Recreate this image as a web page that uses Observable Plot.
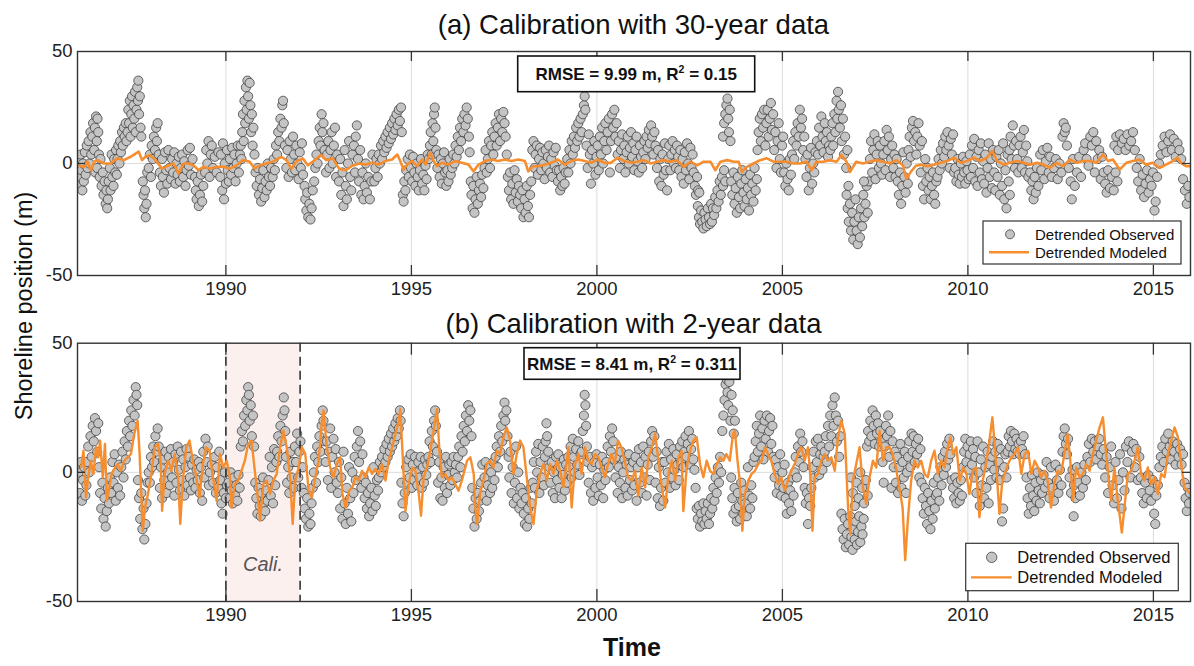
<!DOCTYPE html>
<html><head><meta charset="utf-8">
<script src="https://cdn.jsdelivr.net/npm/d3@7"></script>
<script src="https://cdn.jsdelivr.net/npm/@observablehq/plot@0.6"></script>
<style>
body{margin:0;background:#fff;font-family:"Liberation Sans",Arial,Helvetica,sans-serif;}
#wrap{position:relative;width:1194px;height:666px;overflow:hidden;background:#fff;}
#wrap svg{position:absolute;left:0;}
</style></head><body><div id="wrap"></div>
<script>
// ---- axis ticks / categories ----
const xTicks = [1990, 1995, 2000, 2005, 2010, 2015];
const yTicks = [-50, 0, 50];
const xDomain = [1986, 2016];
const yDomain = [-50, 50];
const caliPeriod = [1990, 1992];
const titles = ["(a) Calibration with 30-year data", "(b) Calibration with 2-year data"];
const statsA = {rmse: "9.99", r2: "0.15"};
const statsB = {rmse: "8.41", r2: "0.311"};
const legendLabels = ["Detrended Observed", "Detrended Modeled"];

// ---- panel (a) observed: flat pairs (year-1900, metres) ----
const obsA = [
86.03,2,86.05,-6,86.07,-10,86.09,4,86.11,-3,86.13,-12,86.15,0,86.17,-8,86.2,5,86.22,-5,86.25,8,86.27,-2,
86.3,10,86.32,0,86.35,14,86.37,4,86.4,12,86.42,18,86.45,6,86.47,16,86.5,21,86.52,10,86.54,20,86.56,14,86.58,4,86.48,-4,86.53,-2,
86.6,-6,86.62,2,86.65,-10,86.68,-4,86.7,-14,86.73,-8,86.76,-18,86.78,-12,86.8,-20,86.82,-16,86.84,-8,86.87,-2,86.89,-12,
86.92,4,86.94,-6,86.97,-10,86.99,2,87.02,-4,87.04,6,
87.06,-5,87.08,2,87.1,8,87.13,0,87.15,10,87.17,5,87.2,14,87.22,8,87.25,16,87.27,12,87.3,18,87.32,10,
87.35,14,87.37,24,87.39,18,87.41,28,87.43,12,87.45,22,87.47,30,87.49,16,87.51,26,87.53,20,87.55,32,87.57,14,87.59,24,87.61,34,87.63,28,87.64,37,87.66,22,87.68,30,87.7,16,87.72,12,
87.76,-8,87.78,-14,87.8,-20,87.82,-12,87.84,-24,87.86,-18,87.88,-4,
87.92,-2,87.95,4,87.98,-6,88.0,8,88.03,2,88.06,12,88.09,6,88.12,16,88.14,10,88.16,18,88.19,4,88.22,-4,
88.25,-10,88.28,2,88.3,-6,88.33,-13,88.36,5,88.39,-3,88.42,-9,88.45,6,88.48,-2,
88.52,-7,88.55,2,88.58,-4,88.61,5,88.64,-9,88.67,0,88.7,-5,88.73,3,88.76,-8,88.79,-2,88.82,4,88.85,-6,88.88,1,88.91,-10,88.94,-3,88.97,6,89.0,-1,89.03,7,89.06,-5,89.1,2,
89.17,-6,89.19,-12,89.21,-16,89.24,-8,89.27,-19,89.3,-14,89.33,-5,89.36,-17,89.39,-10,
89.44,-4,89.47,6,89.5,0,89.53,10,89.56,-6,89.59,4,89.62,8,89.65,-2,89.7,3,89.75,-4,89.8,5,
89.85,-6,89.87,4,89.9,-12,89.92,9,89.95,-16,89.97,0,90.0,-9,90.03,6,90.05,-3,
90.08,-8,90.11,2,90.14,-5,90.17,7,90.2,-2,90.23,4,90.26,-8,90.29,0,90.32,8,90.35,-4,
90.38,4,90.4,8,90.42,2,90.44,14,90.46,22,90.48,10,90.5,28,90.52,18,90.54,34,90.56,24,90.58,37,90.6,30,90.62,20,90.64,36,90.66,26,90.68,14,90.7,22,90.72,8,90.74,16,90.77,4,
90.8,-4,90.83,-10,90.86,-2,90.89,-14,90.92,-7,90.95,-17,90.98,-11,91.01,-3,91.04,-15,91.07,-8,91.1,-12,91.13,0,91.16,-6,91.19,-10,91.22,-2,
91.26,-6,91.29,2,91.32,-3,91.35,8,91.38,4,91.41,14,91.44,10,91.47,20,91.5,16,91.52,26,91.54,28,91.56,18,91.59,8,
91.63,-2,91.66,6,91.69,-6,91.72,10,91.75,2,91.78,-4,91.81,12,91.84,4,91.87,-3,91.9,8,91.93,0,91.96,-7,91.99,5,92.02,-2,92.05,9,92.08,-5,
92.12,-10,92.14,-16,92.17,-21,92.19,-13,92.22,-24,92.25,-18,92.28,-25,92.31,-20,92.34,-12,
92.38,-8,92.41,-2,92.44,4,92.47,0,92.5,10,92.53,16,92.55,8,92.58,22,92.6,14,92.63,18,92.66,6,
92.7,-4,92.73,4,92.76,10,92.79,-2,92.82,6,92.85,14,92.88,0,92.91,8,92.94,16,92.97,-6,93.0,4,
93.05,-8,93.08,2,93.11,-14,93.14,-4,93.17,-19,93.2,6,93.23,-10,93.26,-16,93.29,0,93.32,10,93.35,-6,93.38,-12,93.41,4,
93.45,8,93.48,-4,93.5,12,93.53,17,93.56,2,93.59,-8,93.62,6,93.65,-14,93.68,-4,93.71,-16,93.74,-10,93.77,0,93.8,-13,93.84,-6,93.88,-16,93.92,-8,93.95,4,
94.0,-8,94.03,-2,94.06,2,94.09,-6,94.12,4,94.15,0,94.18,8,94.21,2,94.24,10,94.27,5,94.3,12,94.33,7,94.36,14,94.39,9,94.42,16,94.45,11,94.48,18,94.51,13,94.54,20,94.57,15,94.6,22,94.63,17,94.66,24,94.69,19,94.72,25,94.74,14,
94.77,-14,94.79,-17,94.81,-8,94.84,-12,94.86,-3,
94.9,2,94.93,-6,94.96,4,94.99,-2,95.02,-8,95.05,3,95.08,-4,95.11,-10,95.14,0,95.17,-6,95.2,-12,95.23,-3,95.26,2,95.29,-9,95.32,-5,95.35,-12,95.38,-1,95.41,-7,95.44,4,
95.47,2,95.5,8,95.52,14,95.55,4,95.57,18,95.59,10,95.61,22,95.63,25,95.65,16,95.67,6,
95.7,-2,95.73,4,95.76,-6,95.79,2,95.82,-9,95.85,0,95.88,5,95.91,-4,95.94,-10,95.97,-3,96.0,-8,96.03,2,96.06,-5,
96.1,-2,96.13,4,96.16,0,96.19,8,96.22,3,96.25,12,96.28,6,96.31,16,96.34,10,96.37,20,96.4,14,96.43,22,96.46,17,96.49,25,96.52,20,96.55,12,96.57,5,
96.6,-8,96.62,-14,96.65,-20,96.67,-10,96.7,-22,96.73,-16,96.76,-6,96.79,-18,96.82,-12,96.85,-9,96.88,-15,96.91,-5,96.94,-11,
96.97,-2,97.0,6,97.03,-4,97.06,2,97.09,10,97.12,-2,97.15,8,97.18,14,97.21,4,97.24,12,97.27,18,97.3,8,97.33,16,97.36,22,97.39,10,97.42,20,97.45,14,97.48,23,97.51,18,97.54,12,97.57,4,
97.6,-6,97.63,-12,97.66,-4,97.69,-16,97.72,-9,97.75,-18,97.78,-3,97.81,-13,97.84,-7,97.87,-17,97.9,-10,97.93,-14,97.96,-20,97.99,-12,98.02,-24,98.05,-16,98.08,-22,98.11,-10,98.14,-19,98.17,-24,98.2,-14,98.23,-8,
98.26,6,98.29,10,98.32,-2,98.35,4,98.38,8,98.41,-5,98.44,2,98.47,7,98.5,-3,98.53,5,98.56,0,98.59,-7,98.62,6,98.65,-2,98.68,3,98.71,8,98.74,-4,98.77,2,98.8,-6,98.83,5,98.86,-1,98.89,7,98.92,-3,
98.95,-8,98.98,-3,99.01,-12,99.04,-6,99.07,-10,99.1,-2,99.13,-9,99.16,-4,
99.2,2,99.23,-4,99.26,6,99.29,0,99.32,10,99.35,4,99.38,12,99.41,7,99.44,16,99.47,10,99.5,18,99.53,12,99.56,20,99.59,14,99.62,22,99.65,26,99.67,30,99.69,24,
99.72,8,99.75,-2,99.78,13,99.81,4,99.84,-9,99.87,6,99.9,0,99.93,10,99.96,-5,99.99,3,
100.02,8,100.05,-3,100.08,12,100.11,4,100.14,16,100.17,0,100.2,10,100.23,18,100.26,6,100.29,14,100.32,20,100.35,-4,100.38,10,100.41,22,100.44,16,100.47,24,100.5,12,100.53,18,
100.56,4,100.59,10,100.62,-2,100.65,6,100.68,13,100.71,2,100.74,8,100.77,-4,100.8,5,100.83,12,100.86,0,100.89,7,100.92,14,100.95,3,100.98,9,101.01,-3,101.04,6,101.07,12,101.1,1,101.13,-4,101.16,8,101.19,3,
101.22,-2,101.25,5,101.28,10,101.31,2,101.34,12,101.37,7,101.4,15,101.43,9,101.46,17,101.49,12,101.52,4,101.55,14,101.58,8,
101.62,-2,101.65,6,101.68,-8,101.71,2,101.74,-10,101.77,4,101.8,-5,101.83,9,101.86,-3,101.89,-12,
101.92,2,101.95,8,101.98,-3,102.01,4,102.04,10,102.07,0,102.1,6,102.13,-2,102.16,8,102.19,3,102.22,-3,102.25,6,
102.28,-6,102.31,2,102.34,-9,102.37,5,102.4,-3,102.43,9,102.46,0,102.49,-7,102.52,7,102.55,-2,102.58,4,
102.61,-4,102.64,-10,102.67,-14,102.7,-6,102.73,-12,
102.72,-19,102.75,-24,102.78,-27,102.81,-21,102.84,-26,102.87,-29,102.9,-22,102.93,-25,102.96,-28,102.99,-20,103.02,-24,103.05,-27,103.08,-18,102.76,-13,
103.1,-26,103.13,-20,103.16,-23,103.19,-15,103.22,-20,103.25,-12,103.28,-17,103.31,-8,103.34,-14,103.37,-6,103.4,-10,103.43,-3,103.46,-8,
103.4,12,103.43,18,103.46,22,103.49,26,103.52,29,103.54,20,103.56,14,103.58,24,103.6,10,
103.62,-8,103.65,-14,103.68,-4,103.71,-18,103.74,-11,103.77,-22,103.8,-6,103.83,-15,103.86,-20,103.89,-9,103.92,-3,103.95,-13,103.98,-19,104.01,-7,104.04,-16,104.07,-11,104.1,-21,104.13,-5,104.16,-14,104.19,-9,104.22,-17,104.25,-2,104.28,-12,104.31,-7,
104.33,6,104.36,14,104.39,20,104.42,10,104.45,22,104.48,16,104.51,24,104.54,8,104.57,18,104.6,24,104.63,12,104.66,20,104.69,27,104.72,15,104.75,22,
104.78,6,104.81,14,104.84,-2,104.87,10,104.9,18,104.93,2,104.96,-4,104.99,8,105.02,12,
105.05,-4,105.08,-10,105.11,0,105.14,-7,105.17,-12,105.2,2,105.23,-5,
105.26,4,105.29,10,105.32,2,105.35,14,105.38,8,105.41,18,105.44,12,105.47,24,105.5,16,105.53,20,105.56,6,105.59,12,105.62,2,
105.65,-6,105.68,4,105.71,-12,105.74,-2,105.77,7,105.8,-9,105.83,0,105.86,-4,105.89,5,
105.93,10,105.96,4,105.99,16,106.02,8,106.05,21,106.08,12,106.11,5,106.14,18,106.17,10,106.2,14,106.23,3,106.26,8,
106.29,6,106.32,12,106.35,18,106.37,8,106.4,22,106.43,14,106.46,28,106.48,20,106.5,32,106.52,24,106.55,16,106.58,26,106.6,10,106.63,20,106.66,4,106.69,12,
106.72,-2,106.75,6,106.78,-10,
106.73,-14,106.76,-20,106.79,-26,106.82,-18,106.85,-30,106.88,-22,106.91,-34,106.94,-26,106.97,-16,107.0,-30,107.03,-36,107.06,-24,107.09,-33,107.12,-20,107.15,-28,107.18,-14,107.21,-24,107.24,-18,107.27,-10,107.3,-22,107.33,-8,107.2,-8,
107.36,2,107.39,10,107.42,-4,107.45,6,107.48,13,107.51,-7,107.54,4,107.57,10,107.6,-2,107.63,8,107.66,0,
107.69,-5,107.72,4,107.75,10,107.78,-3,107.81,15,107.84,6,107.87,12,107.9,-6,107.93,2,107.96,8,107.99,-2,108.02,4,108.05,-6,
108.08,2,108.11,-8,108.14,-14,108.17,-4,108.2,-18,108.23,-10,108.26,5,108.29,-6,108.32,-13,108.35,0,108.38,-9,
108.4,6,108.43,12,108.46,3,108.49,16,108.52,19,108.55,10,108.58,14,108.61,4,108.64,12,108.67,18,108.7,8,108.73,-4,108.76,10,108.79,-10,108.82,-16,108.85,2,108.88,-8,
108.91,-2,108.94,-12,108.97,-6,109.0,-16,109.03,-10,109.06,-4,109.09,-14,109.12,-18,109.15,-8,
109.18,-6,109.21,2,109.24,-3,109.27,6,109.3,0,109.33,9,109.36,3,109.39,12,109.42,6,109.45,14,109.48,8,109.51,-2,109.54,11,109.57,4,109.6,13,109.63,-4,
109.66,-2,109.69,-8,109.72,2,109.75,-5,109.78,-9,109.81,0,109.84,-6,109.87,3,109.9,-4,109.93,-9,109.96,1,109.99,-3,110.02,-7,
110.05,4,110.08,-6,110.11,8,110.14,-2,110.17,11,110.2,-8,110.23,3,110.26,-10,110.29,6,110.32,-4,110.35,9,110.38,-7,110.41,1,
110.44,-9,110.47,4,110.5,-13,110.53,-2,110.56,9,110.59,-6,110.62,2,110.65,-11,110.68,6,110.71,-4,110.74,-12,110.77,3,
110.8,-6,110.83,6,110.86,-14,110.89,0,110.92,-10,110.95,9,110.98,-16,111.01,-3,111.04,-20,111.07,4,111.1,-8,111.13,-14,
111.12,6,111.15,12,111.18,2,111.21,17,111.24,8,111.27,-2,111.3,10,
111.33,2,111.36,-4,111.39,8,111.42,12,111.45,-2,111.48,5,111.51,15,111.54,-4,111.57,8,111.6,1,111.63,-6,
111.68,-4,111.71,-12,111.74,-8,111.77,-16,111.8,-6,111.83,-13,111.86,-2,111.9,-10,
111.95,4,111.98,-3,112.02,6,112.06,-7,112.1,1,112.14,7,112.18,-4,112.22,3,112.26,-6,
112.32,-2,112.37,2,112.42,-7,112.47,0,112.52,-4,
112.55,12,112.58,18,112.61,14,112.64,16,112.67,8,112.8,-16,
112.72,-2,112.77,-8,112.83,2,112.88,-10,112.94,-4,113.0,3,113.05,-6,
113.12,6,113.16,9,113.2,2,113.25,-1,
113.3,12,113.34,8,113.38,14,113.42,-4,113.46,10,113.5,2,113.54,6,113.58,-7,113.62,3,
113.66,-4,113.7,-9,113.74,-13,113.78,-3,113.83,-11,113.88,-6,113.93,-12,113.98,-4,114.03,-8,
113.95,8,114.0,12,114.05,6,114.1,13,114.15,9,114.2,11,114.25,6,114.3,13,114.35,8,114.4,10,114.45,14,114.5,6,
114.55,-2,114.59,-8,114.63,2,114.67,-12,114.71,-5,114.75,-15,114.79,-9,114.83,-3,114.87,-13,114.91,-7,114.95,-10,114.99,-4,115.03,-21,115.06,-17,
115.1,-6,115.15,0,115.2,4,115.25,8,115.3,12,115.35,5,115.4,10,115.45,13,115.5,6,115.55,11,115.6,3,
115.65,9,115.7,6,115.75,2,115.8,-7,115.85,-12,115.9,-18,115.94,-10,115.97,-15
];

// ---- panel (a) modeled ----
const modelA = [
86.05,-1,86.18,-1.5,86.27,0.8,86.36,-3,86.45,0.8,86.54,1.5,86.71,0,86.89,0,87.07,2.3,87.25,1.5,87.43,3,87.65,5.3,87.74,1.5,87.83,3,87.96,3.8,88.1,1.5,88.28,-2.3,88.46,-0.8,88.59,0,88.72,-4.5,88.86,0,88.99,0,89.13,-0.8,89.26,-3,89.39,-1.5,89.57,-2.3,89.75,-1.5,89.93,-1.5,90.11,-2.3,90.29,-0.8,90.46,1.5,90.64,0.8,90.78,-2.3,90.91,-0.8,91.09,0,91.27,0.8,91.49,3,91.63,1.5,91.76,-2.3,91.89,0.8,92.07,2.3,92.21,-0.8,92.34,0.8,92.56,3.8,92.7,1.5,92.88,2.3,93.05,-2.3,93.23,-3,93.41,-1,93.59,0,93.77,-0.5,93.94,0.3,94.12,-0.5,94.3,1.1,94.48,1.8,94.62,4,94.7,1.1,94.79,-2.7,94.88,-0.5,95.02,1.1,95.15,-1.2,95.29,1.8,95.38,-0.5,95.51,4.8,95.6,1.1,95.69,-1.2,95.82,0.3,96.0,-0.5,96.18,1.1,96.36,0.3,96.54,-0.5,96.67,-3.5,96.81,-0.5,96.99,1.1,97.16,1.8,97.34,1.1,97.52,1.8,97.7,1.1,97.88,1.8,98.06,1.1,98.15,-3.5,98.28,-1.2,98.42,-1.2,98.6,-0.5,98.77,0.3,98.95,1.8,99.13,-0.5,99.31,1.1,99.49,1.8,99.67,1.1,99.85,0.3,100.03,1.8,100.21,0.3,100.38,0.3,100.56,2.6,100.74,1.1,100.92,0.3,101.09,0.8,101.27,1.5,101.45,0,101.63,0.8,101.81,1.5,101.99,0.8,102.16,1.5,102.34,-1.5,102.52,0.8,102.7,-0.8,102.88,0.8,103.06,0.8,103.19,-3,103.33,0.8,103.51,1.5,103.69,0.8,103.82,0.8,103.91,-3.8,104.04,-1.5,104.22,0,104.4,1.5,104.58,2.3,104.76,0.8,104.94,0.8,105.12,0.8,105.3,0,105.47,0,105.65,0.8,105.79,-3,105.92,0.8,106.1,0.8,106.28,1.5,106.46,0.8,106.59,3.8,106.73,0.8,106.82,-3.8,106.99,0.8,107.17,0,107.35,0.8,107.53,1.5,107.71,0.8,107.89,0,108.07,1.5,108.25,-0.8,108.34,-6.8,108.47,-3.5,108.6,-1,108.73,-0.5,108.91,-1.2,109.09,-0.5,109.27,0.3,109.45,1.1,109.63,2.6,109.8,0.3,109.98,1.1,110.16,2.6,110.34,1.1,110.52,2.6,110.65,5.6,110.79,1.1,110.96,-0.5,111.14,0.3,111.32,1.1,111.5,0.3,111.68,-0.5,111.86,0.3,112.04,-0.5,112.21,-2,112.39,0.3,112.57,-1.2,112.75,1.8,112.93,0.3,113.11,1.1,113.29,1.1,113.46,0.3,113.64,4,113.78,1.1,113.91,1.8,114.09,-2.7,114.27,0.3,114.45,1.1,114.63,1.8,114.8,-0.5,114.98,0.3,115.16,-2,115.34,-0.5,115.52,1.1,115.65,2.6,115.74,0.3,115.88,-1.2,115.98,-1.2
];

// ---- panel (b) observed ----
const obsB = [
86.03,0,86.06,-8,86.09,4,86.12,-11,86.15,-3,86.18,2,86.21,-9,86.24,-5,
86.26,4,86.29,10,86.32,0,86.35,14,86.38,6,86.41,18,86.44,12,86.47,21,86.5,16,86.53,8,86.56,19,86.58,2,
86.61,-8,86.64,-14,86.67,-4,86.7,-18,86.73,-10,86.76,-21,86.79,-15,86.82,-6,86.85,-12,86.88,-2,
86.91,-8,86.94,4,86.97,-4,87.0,7,87.03,-11,87.06,0,87.09,-6,87.12,3,87.15,-9,
87.18,2,87.21,8,87.24,-2,87.27,12,87.3,5,87.33,16,87.36,10,87.39,20,87.42,14,87.45,24,87.48,18,87.51,28,87.54,22,87.57,33,87.59,30,87.61,26,
87.63,-3,87.66,-10,87.69,-18,87.72,-8,87.75,-22,87.78,-14,87.8,-26,87.83,-20,87.86,-12,87.89,-4,
87.92,0,87.95,-4,87.98,6,88.01,2,88.04,10,88.07,4,88.1,14,88.13,8,88.16,17,88.19,10,
88.22,-6,88.25,2,88.28,-10,88.31,5,88.34,-3,88.37,8,88.4,-8,88.43,0,88.46,6,88.49,-5,88.52,9,88.55,-2,88.58,4,88.61,-9,88.64,7,88.67,-4,88.7,10,88.73,1,88.76,-7,88.79,8,88.82,-3,88.85,5,88.88,-9,88.91,2,88.94,9,88.97,-5,
89.0,6,89.03,-2,89.06,-7,89.09,3,89.12,-4,89.15,5,89.18,-6,89.21,1,89.24,-3,89.27,4,
89.3,-8,89.33,2,89.36,-11,89.39,8,89.42,-2,89.45,13,89.48,4,89.51,10,89.54,-5,89.57,0,
89.62,3,89.66,-4,89.7,6,89.73,-8,89.76,2,89.79,-6,89.82,8,89.85,-3,89.88,-12,89.91,-16,89.94,-8,89.97,0,90.0,-10,90.03,-5,
90.07,-4,90.1,-10,90.13,0,90.16,-7,90.19,-12,90.22,-2,90.25,-9,90.28,-5,90.31,-11,90.34,-1,90.37,-6,
90.4,10,90.43,16,90.46,12,90.49,22,90.52,18,90.55,28,90.58,24,90.6,33,90.62,30,90.64,20,90.67,26,90.7,14,90.73,22,90.76,10,
90.79,-4,90.82,-10,90.85,-16,90.88,-6,90.91,-13,90.94,-17,90.97,-8,91.0,-2,91.03,-12,91.06,-15,91.09,-7,91.12,-11,
91.15,-3,91.18,6,91.21,-9,91.24,2,91.27,-12,91.3,9,91.33,-5,91.36,4,
91.38,8,91.41,14,91.44,6,91.47,18,91.5,12,91.53,22,91.56,29,91.58,24,91.6,16,
91.62,6,91.65,-4,91.68,2,91.71,-8,91.74,8,91.77,-2,91.8,4,91.83,-6,
91.86,10,91.89,4,91.92,15,91.95,-2,91.98,8,92.01,12,92.04,-6,92.07,2,
92.1,-8,92.13,-14,92.16,-18,92.19,-10,92.22,-21,92.25,-16,92.28,-20,92.31,-12,92.34,-6,
92.37,0,92.4,6,92.43,-4,92.46,10,92.49,4,92.52,14,92.55,8,92.58,18,92.61,24,92.63,20,92.66,12,
92.69,4,92.72,12,92.75,-3,92.78,8,92.81,17,92.84,-6,92.87,6,92.9,13,92.93,0,92.96,9,92.99,-4,
93.02,-8,93.05,4,93.08,-14,93.11,-2,93.14,-18,93.17,8,93.2,-12,93.23,-20,93.26,-6,93.29,-16,93.32,2,93.35,-10,93.38,-19,
93.41,0,93.44,-8,93.47,6,93.5,-3,93.53,10,93.56,16,93.59,4,93.62,12,93.65,-6,93.68,7,93.71,-2,
93.74,-10,93.77,-4,93.8,-14,93.83,-8,93.86,-17,93.89,-12,93.92,-6,93.95,-15,93.98,2,94.01,-9,94.04,-13,94.07,-3,94.1,-7,
94.12,-2,94.15,4,94.18,0,94.21,6,94.24,2,94.27,9,94.3,4,94.33,11,94.36,6,94.39,13,94.42,8,94.45,15,94.48,10,94.51,17,94.54,12,94.57,19,94.6,14,94.63,21,94.66,17,94.69,24,94.71,20,
94.73,-4,94.76,-12,94.79,-17,94.82,-8,
94.86,2,94.89,-4,94.92,5,94.95,-2,94.98,7,95.01,-6,95.04,3,95.07,-3,95.1,6,95.13,0,95.16,-5,95.19,4,95.22,-2,95.25,6,95.28,-6,95.31,2,95.34,-4,95.37,5,95.4,-1,95.43,3,
95.46,6,95.49,12,95.52,4,95.55,16,95.58,10,95.61,20,95.64,24,95.66,18,95.69,8,
95.72,-4,95.75,4,95.78,-10,95.81,-2,95.84,-11,95.87,2,95.9,-6,95.93,6,95.96,-8,95.99,-1,96.02,3,96.05,-5,
96.08,4,96.11,-3,96.14,6,96.17,0,96.2,3,96.23,-2,
96.26,6,96.29,10,96.32,2,96.35,14,96.38,8,96.41,18,96.44,12,96.47,22,96.5,16,96.53,26,96.56,20,96.59,24,96.62,14,
96.64,-6,96.67,-14,96.7,-21,96.73,-10,96.76,-18,96.79,-8,96.82,-15,96.85,-11,
96.88,-4,96.91,3,96.94,-9,96.97,-2,97.0,4,97.03,-11,97.06,-5,97.09,2,97.12,-8,97.15,0,97.18,-6,97.21,4,97.24,-3,
97.27,6,97.3,10,97.33,2,97.36,14,97.39,8,97.42,18,97.45,12,97.48,22,97.51,27,97.53,20,97.56,24,97.59,14,97.62,6,
97.64,-2,97.67,8,97.7,-8,97.73,2,97.76,-12,97.79,-4,97.82,10,97.85,-10,97.88,0,97.91,-14,97.94,-6,97.97,-12,
98.0,-8,98.03,-16,98.06,-20,98.09,-10,98.12,-21,98.15,-14,98.18,-18,98.21,-6,98.24,-12,98.27,-4,
98.3,4,98.33,-6,98.36,8,98.39,0,98.42,11,98.45,-8,98.48,4,98.51,-2,98.54,10,98.57,-5,98.6,6,
98.62,12,98.64,19,98.66,14,98.69,8,98.72,2,98.75,-4,
98.78,4,98.81,-8,98.84,0,98.87,-10,98.9,6,98.93,-3,98.96,7,98.99,-6,99.02,2,99.05,-10,99.08,-1,99.11,5,99.14,-7,99.17,3,99.2,-4,99.23,6,
99.26,2,99.29,10,99.32,-2,99.35,13,99.38,6,99.41,0,99.44,9,99.47,3,99.5,12,99.53,-1,99.56,7,
99.59,8,99.62,16,99.65,22,99.67,30,99.69,26,99.71,18,99.73,10,99.75,4,
99.78,-4,99.81,6,99.84,-8,99.87,2,99.9,-11,99.93,4,99.96,-6,99.99,7,100.02,-2,100.05,-9,100.08,3,100.11,-5,100.14,6,100.17,-10,100.2,1,100.23,-3,
100.26,4,100.29,10,100.32,2,100.35,14,100.38,8,100.41,17,100.44,12,100.47,5,
100.5,-2,100.53,6,100.56,-8,100.59,2,100.62,-4,100.65,8,100.68,-10,100.71,0,100.74,5,100.77,-6,100.8,3,100.83,-9,100.86,7,100.89,-3,100.92,2,100.95,-7,100.98,4,
101.01,-5,101.04,6,101.07,-11,101.1,2,101.13,9,101.16,-4,101.19,4,101.22,-8,101.25,10,101.28,-2,101.31,6,101.34,-9,101.37,3,101.4,8,101.43,-3,
101.46,12,101.49,16,101.52,6,101.55,14,101.58,-4,101.61,8,101.64,-10,101.67,2,101.7,-13,101.73,-6,101.76,4,101.79,-11,
101.82,4,101.85,-4,101.88,8,101.91,0,101.94,11,101.97,-6,102.0,5,102.03,-2,102.06,9,102.09,1,102.12,-5,102.15,7,102.18,3,102.21,-3,102.24,10,
102.27,4,102.3,12,102.33,2,102.36,8,102.39,14,102.42,6,102.45,11,102.48,16,102.51,3,102.54,9,102.57,13,102.6,5,102.63,1,
102.66,-6,102.69,-14,102.72,-18,102.75,-13,102.78,-21,102.81,-16,102.84,-19,102.87,-12,102.9,-20,102.93,-15,102.96,-18,102.99,-12,103.02,-20,
103.05,-16,103.08,-10,103.11,-14,103.14,-6,103.17,-11,103.2,-2,103.23,-8,103.26,2,103.29,-4,103.32,6,103.35,0,
103.38,16,103.41,22,103.44,28,103.47,34,103.5,36,103.52,31,103.54,26,103.57,35,103.6,20,103.63,30,103.66,24,103.69,15,103.72,20,
103.62,-2,103.65,-10,103.68,-16,103.71,-6,103.74,-14,103.77,-19,103.8,-8,103.83,-13,103.86,-18,103.89,-4,103.92,-11,103.95,-16,103.98,-7,104.01,-12,104.04,-17,104.07,2,104.1,-9,104.13,-14,104.16,-5,104.19,-10,104.22,4,
104.25,6,104.28,12,104.31,18,104.34,8,104.37,15,104.4,22,104.43,10,104.46,17,104.49,5,104.52,20,104.55,13,104.58,22,104.61,8,104.64,16,104.67,21,104.7,11,104.73,18,104.76,6,
104.79,-2,104.82,5,104.85,-8,104.88,2,104.91,-5,104.94,7,104.97,-9,105.0,0,105.03,-6,105.06,3,
105.09,-10,105.12,-16,105.15,-4,105.18,-12,105.21,-7,105.24,-15,105.27,-2,105.3,-9,
105.33,0,105.36,6,105.39,-2,105.42,10,105.45,4,105.48,15,105.51,8,105.54,12,105.57,2,
105.6,-6,105.63,-12,105.66,-8,105.69,-20,105.72,-10,105.75,-13,105.78,-6,
105.81,2,105.84,8,105.87,-2,105.9,12,105.93,4,105.96,13,105.99,-1,106.02,7,106.05,10,106.08,1,106.11,6,
106.14,8,106.17,14,106.2,4,106.23,18,106.26,10,106.29,22,106.32,14,106.35,26,106.38,18,106.41,29,106.44,22,106.47,12,106.5,20,106.53,6,106.56,14,
106.59,-16,106.62,-22,106.65,-26,106.68,-18,106.71,-29,106.74,-24,106.77,-20,106.8,-28,106.83,-17,106.86,-25,106.89,-30,106.92,-22,106.95,-26,106.98,-19,107.01,-28,107.04,-23,107.07,-17,107.1,-27,107.13,-21,107.16,-24,107.19,-18,
106.85,-2,106.9,-8,106.95,-13,107.0,-4,107.05,-10,107.1,0,107.15,-6,107.2,-12,107.25,-3,107.3,-9,
107.28,10,107.31,16,107.34,12,107.37,20,107.4,14,107.43,24,107.46,18,107.49,11,107.52,22,107.55,15,107.58,19,107.61,10,107.64,16,107.67,12,
107.7,4,107.73,-4,107.76,10,107.79,18,107.82,14,107.85,22,107.88,6,107.91,16,107.94,-6,107.97,12,108.0,2,108.03,8,
108.06,-4,108.09,6,108.12,-8,108.15,2,108.18,11,108.21,-6,108.24,4,108.27,-2,108.3,8,108.33,-8,108.36,0,
108.39,6,108.42,12,108.45,2,108.48,15,108.51,8,108.54,14,108.57,4,108.6,11,108.63,7,108.66,13,108.69,-2,108.72,9,
108.75,-4,108.78,-10,108.81,-16,108.84,-6,108.87,-13,108.9,-20,108.93,-8,108.96,-15,108.99,-22,109.02,-11,109.05,-18,109.08,-4,109.11,-14,109.14,-9,
109.17,-8,109.2,-2,109.23,-11,109.26,2,109.29,-5,109.32,6,109.35,-1,109.38,8,109.41,2,109.44,11,109.47,5,109.5,13,109.53,7,109.56,-3,
109.6,-6,109.63,-10,109.66,-2,109.69,-12,109.72,-4,109.75,-8,109.78,-11,109.81,-3,109.84,-9,
109.87,2,109.9,8,109.93,13,109.96,4,109.99,10,110.02,1,110.05,7,110.08,12,110.11,3,110.14,9,
110.17,-2,110.2,6,110.23,-8,110.26,12,110.29,0,110.32,-13,110.35,5,110.38,-5,110.41,10,110.44,-10,110.47,2,110.5,-6,110.53,8,110.56,-12,110.59,3,
110.62,-3,110.65,6,110.68,12,110.71,1,110.74,8,110.77,-2,110.8,11,110.83,4,110.86,-3,110.89,9,110.92,-19,110.95,-14,110.98,2,111.01,7,111.04,-2,
111.07,8,111.1,14,111.13,10,111.16,16,111.19,12,111.22,7,111.25,15,111.28,9,111.31,13,111.34,8,111.37,11,111.4,7,111.43,12,111.46,9,111.5,14,111.54,7,
111.58,-2,111.61,-10,111.64,-16,111.67,-6,111.7,-13,111.73,-1,111.76,-9,111.79,-15,111.82,-4,111.85,-11,111.88,0,111.91,-7,111.94,-12,111.97,-3,112.0,-8,112.04,-1,112.08,-6,
112.12,4,112.16,-4,112.2,-10,112.24,2,112.28,-6,112.32,-11,112.36,3,112.4,-3,112.44,-8,112.48,1,112.52,-5,
112.55,8,112.58,14,112.61,17,112.64,11,112.67,7,112.7,13,112.85,-17,
112.74,-2,112.78,-8,112.82,1,112.86,-5,112.9,-10,112.94,2,112.98,-4,113.02,-9,113.06,0,113.1,-6,113.14,3,113.18,-3,
113.22,6,113.26,11,113.3,4,113.34,13,113.38,8,113.42,12,113.46,5,113.5,10,113.54,13,113.58,7,113.62,3,113.66,9,
113.7,-2,113.74,6,113.78,-8,113.82,2,113.86,10,113.9,-5,113.94,-12,113.98,4,114.02,-10,114.06,-3,114.1,7,114.14,-14,114.18,0,114.22,-7,
114.26,10,114.3,4,114.34,12,114.38,-2,114.42,8,114.46,11,114.5,2,114.54,9,114.58,-3,114.62,6,
114.66,-2,114.7,-8,114.74,-12,114.78,-4,114.82,-10,114.86,-1,114.9,-7,114.94,-11,114.98,-3,115.02,-16,115.05,-20,115.08,-9,
115.12,-5,115.16,2,115.2,6,115.24,10,115.28,4,115.32,13,115.36,8,115.4,15,115.44,10,115.48,5,115.52,12,115.56,8,115.6,3,115.64,11,115.68,6,115.72,9,115.76,3,115.8,7,
115.84,-4,115.87,-10,115.9,-15,115.93,-6,115.96,-12,115.98,-8
];

// ---- panel (b) modeled ----
const modelB = [
86.1,2,86.16,8.4,86.23,-9.7,86.29,-1.9,86.36,4.5,86.43,-0.6,86.5,9.7,86.56,5.8,86.61,12.3,86.68,-1.9,86.74,11,86.79,-11,86.86,-5.8,86.92,-0.6,86.99,1.3,87.08,3.2,87.17,0.6,87.26,4.5,87.35,5.8,87.44,7.1,87.53,14.9,87.62,20,87.67,8.4,87.71,-5.8,87.76,-22.6,87.82,-13.6,87.9,-8.4,87.99,-0.6,88.08,9.7,88.17,11,88.24,4.5,88.28,-14.9,88.35,-0.6,88.44,4.5,88.53,0.6,88.62,7.1,88.71,-1.9,88.77,-20,88.84,-3.2,88.93,9.7,89.02,12.3,89.11,4.5,89.2,-1.9,89.29,-9.7,89.38,3.2,89.47,9.7,89.56,8.4,89.65,-1.9,89.75,-11,89.84,7.1,89.93,1.9,90.02,4.5,90.11,-1.9,90.15,-13.6,90.24,-4.5,90.33,-3.2,90.42,0.6,90.51,4.5,90.6,11,90.69,12.3,90.78,0.6,90.87,-11,90.92,-18.7,91.01,-4.5,91.1,-3.2,91.19,-8.4,91.28,-3.2,91.37,-0.6,91.46,9.7,91.55,16.1,91.64,9.7,91.73,-1.9,91.8,-20,91.87,-3.2,91.96,1.9,92.05,9.7,92.14,7.1,92.23,-7.1,92.32,-9.7,92.41,-1.9,92.5,4.5,92.59,20,92.63,24,92.72,9.7,92.81,1.9,92.9,-1.9,92.99,3.2,93.08,5.8,93.14,-8.4,93.23,-13.6,93.32,-7.1,93.41,-5.8,93.49,-1.9,93.58,-3.2,93.67,0.6,93.76,-1.9,93.85,1.9,93.94,-0.6,94.03,1.3,94.12,-0.6,94.21,3.2,94.3,-3.2,94.39,4.5,94.48,9.7,94.57,14.9,94.66,20,94.7,24.5,94.84,-14.9,94.93,-4.5,95.02,1.9,95.11,0.6,95.2,-8.4,95.26,-16.8,95.33,-1.9,95.42,1.9,95.51,8.4,95.6,16.1,95.69,24.5,95.75,9.7,95.82,-1.9,95.91,-0.6,96.0,-3.2,96.09,-1.9,96.18,-4.5,96.27,-7.1,96.36,-3.2,96.5,4.5,96.59,5.8,96.68,-0.6,96.72,-13.6,96.77,-20,96.85,-8.4,96.94,-3.2,97.03,3.2,97.12,4.5,97.21,1.9,97.3,8.4,97.39,7.1,97.48,13.6,97.57,17.4,97.66,12.3,97.75,-0.6,97.84,7.1,97.93,12.3,98.02,9.7,98.11,-1.9,98.2,-13.6,98.29,-20,98.38,-7.1,98.47,-0.6,98.56,3.2,98.65,-3.2,98.74,3.2,98.83,-0.6,98.92,4.5,99.01,0.6,99.1,-5.8,99.23,9.7,99.32,-13.6,99.41,3.2,99.5,7.1,99.59,-0.6,99.68,9.7,99.77,4.5,99.86,3.2,99.95,7.1,100.04,5.8,100.13,1.9,100.22,-1.9,100.3,3.2,100.39,7.1,100.48,3.2,100.57,12.3,100.66,9.7,100.75,4.5,100.84,-1.9,100.93,-3.2,101.03,0.6,101.11,-9,101.21,1.9,101.3,-5.8,101.39,5.8,101.48,9.7,101.57,15,101.66,4.5,101.75,-5.8,101.84,-13.6,101.93,-0.6,102.02,4.5,102.11,-3.2,102.2,5.8,102.28,8.4,102.33,-15,102.42,1.9,102.51,8.4,102.6,12.3,102.69,13.6,102.78,3.2,102.87,-1.9,102.96,4.5,103.05,0.6,103.14,-0.6,103.23,3.2,103.32,5.8,103.41,4.5,103.49,7.1,103.58,4.5,103.67,14.9,103.72,16.1,103.79,4.5,103.85,-3.2,103.92,-22.6,103.99,-8.4,104.08,-3.2,104.17,-0.6,104.26,0.6,104.35,3.2,104.44,4.5,104.53,9.7,104.61,7.1,104.7,4.5,104.79,-0.6,104.88,-4.5,104.97,-1.9,105.06,-7.1,105.15,-3.2,105.24,0.6,105.33,3.2,105.42,7.1,105.51,9.7,105.6,4.5,105.69,9.7,105.75,-0.6,105.81,-22.6,105.87,-1.9,105.96,-0.6,106.05,4.5,106.14,7.1,106.23,4.5,106.32,5.8,106.41,0.6,106.5,13.6,106.59,20,106.68,14.9,106.77,-13.6,106.83,-24,106.9,-3.2,106.99,3.2,107.08,9.7,107.17,-5.8,107.26,-12.3,107.35,-1.9,107.44,4.5,107.53,1.9,107.62,16.1,107.71,4.5,107.8,9.7,107.89,9.7,107.97,7.1,108.06,1.9,108.15,-5.8,108.24,-13.6,108.31,-34,108.38,-18.7,108.47,-3.2,108.56,4.5,108.65,1.9,108.74,4.5,108.83,-0.6,108.92,-1.9,109.01,4.5,109.1,8.4,109.19,-0.6,109.28,4.5,109.37,1.9,109.46,9.7,109.53,13.6,109.6,7.1,109.69,9.7,109.78,-3.2,109.87,1.9,109.96,-0.6,110.04,-8.4,110.13,0.6,110.22,1.9,110.31,-17.4,110.4,-3.2,110.49,3.2,110.58,12.3,110.66,21.3,110.72,11,110.79,-3.2,110.85,-16.1,110.92,-4.5,110.99,-0.6,111.08,3.2,111.17,5.8,111.26,7.1,111.35,9.7,111.44,-0.6,111.53,7.1,111.62,8.4,111.71,-0.6,111.8,4.5,111.89,1.9,111.97,-1.9,112.06,0.6,112.15,-3.2,112.24,-13.6,112.33,-4.5,112.42,0.6,112.51,-0.6,112.6,7.1,112.69,14.9,112.76,4.5,112.83,-11,112.92,1.9,113.01,-1.9,113.1,-0.6,113.19,3.2,113.28,0.6,113.37,7.1,113.46,12.3,113.55,17.4,113.64,21.3,113.71,9.7,113.79,-1.9,113.86,-11,113.95,1.9,114.04,-11,114.15,-23.3,114.22,-13.6,114.31,-0.6,114.4,0.6,114.49,4.5,114.58,9.7,114.67,-0.6,114.76,-3.2,114.85,1.9,114.94,-4.5,115.03,-1.9,115.12,-8.4,115.21,-0.6,115.3,-1.9,115.39,7.1,115.48,12.3,115.57,17.4,115.66,13.6,115.75,3.2,115.83,-5.8,115.92,-7.1,116.0,-8.4
];

// ---- helpers ----
function rows(flat) {
  const out = [];
  for (let i = 0; i < flat.length; i += 2) out.push({t: 1900 + flat[i], v: flat[i + 1]});
  return out;
}
const FONT = '"Liberation Sans", Arial, Helvetica, sans-serif';
const ORANGE = "#f68d2e";
const W = 1194, ML = 77, MR = 4;
const plotW = W - ML - MR;

function panel({obs, model, top, height, mt, mb, tickLen, lineW, cali}) {
  const plotH = height - mt - mb;
  const marks = [];
  if (cali) marks.push(Plot.rect([cali], {x1: d => d[0], x2: d => d[1], y1: yDomain[0], y2: yDomain[1], fill: "#fcf0ef"}));
  marks.push(Plot.ruleX(xTicks, {stroke: "#dcdcdc", strokeWidth: 1}));
  marks.push(Plot.ruleY([0], {stroke: "#dcdcdc", strokeWidth: 1}));
  marks.push(Plot.dot(rows(obs), {x: "t", y: "v", r: 4.6, fill: "#c4c4c4", stroke: "#3a3a3a", strokeWidth: 0.75, clip: true}));
  if (cali) {
    marks.push(Plot.ruleX(cali, {stroke: "#333", strokeWidth: 1.6, strokeDasharray: "9,5"}));
    marks.push(Plot.text([{x: (cali[0] + cali[1]) / 2, label: "Cali."}], {x: "x", text: "label", frameAnchor: "bottom", dy: -31, fontSize: 20, fontStyle: "italic", fill: "#555"}));
  }
  marks.push(Plot.line(rows(model), {x: "t", y: "v", stroke: ORANGE, strokeWidth: lineW, clip: true}));
  marks.push(Plot.ruleX(xTicks, {insetTop: plotH - tickLen, stroke: "#333", strokeWidth: 1.3}));
  marks.push(Plot.ruleX(xTicks, {insetBottom: plotH - tickLen, stroke: "#333", strokeWidth: 1.3}));
  marks.push(Plot.ruleY([0], {insetRight: plotW - 8, stroke: "#333", strokeWidth: 1.3}));
  marks.push(Plot.ruleY([0], {insetLeft: plotW - 8, stroke: "#333", strokeWidth: 1.3}));
  marks.push(Plot.frame({stroke: "#333", strokeWidth: 1.4}));
  marks.push(Plot.axisX({ticks: xTicks, tickSize: 0, tickPadding: 6, fontSize: 18.5, tickFormat: d => String(d), label: null}));
  marks.push(Plot.axisY({ticks: yTicks, tickSize: 0, tickPadding: 5, fontSize: 18.5, tickFormat: d => String(d), label: null}));
  const svg = Plot.plot({
    width: W, height, marginLeft: ML, marginRight: MR, marginTop: mt, marginBottom: mb,
    x: {domain: xDomain}, y: {domain: yDomain},
    style: {fontFamily: FONT, color: "#222", background: "transparent", overflow: "visible"},
    marks
  });
  svg.style.top = top + "px";
  return svg;
}

const wrap = document.getElementById("wrap");
wrap.appendChild(panel({obs: obsA, model: modelA, top: 0, height: 300, mt: 51, mb: 25, tickLen: 10, lineW: 2.6}));
wrap.appendChild(panel({obs: obsB, model: modelB, top: 300, height: 330, mt: 42.7, mb: 29, tickLen: 12, lineW: 2.4, cali: caliPeriod}));

// ---- overlay: titles, axis titles, stats boxes, legends ----
const NS = "http://www.w3.org/2000/svg";
const ov = document.createElementNS(NS, "svg");
ov.setAttribute("width", W); ov.setAttribute("height", 666);
ov.style.top = "0px"; ov.style.fontFamily = FONT;
wrap.appendChild(ov);
function el(tag, attrs, text) {
  const e = document.createElementNS(NS, tag);
  for (const k in attrs) e.setAttribute(k, attrs[k]);
  if (text != null) e.textContent = text;
  ov.appendChild(e);
  return e;
}
const cx = ML + plotW / 2;
el("text", {x: cx, y: 33.5, "text-anchor": "middle", "font-size": 27.5, fill: "#111"}, titles[0]);
el("text", {x: cx, y: 333, "text-anchor": "middle", "font-size": 27.5, fill: "#111"}, titles[1]);
el("text", {x: 31.5, y: 306, "text-anchor": "middle", "font-size": 23.5, fill: "#111", transform: "rotate(-90 31.5 306)"}, "Shoreline position (m)");
el("text", {x: 632, y: 656, "text-anchor": "middle", "font-size": 25, "font-weight": "bold", fill: "#111"}, "Time");

function statsBox(x, y, w, h, stats, fs, baseline) {
  el("rect", {x, y, width: w, height: h, fill: "#fff", stroke: "#111", "stroke-width": 1.6});
  const t = el("text", {x: x + w / 2, y: baseline, "text-anchor": "middle", "font-size": fs, "font-weight": "bold", fill: "#111"});
  const parts = [["RMSE = " + stats.rmse + " m, R", 0, fs], ["2", -7, fs * 0.62], [" = " + stats.r2, 7, fs]];
  for (const [s, dy, f] of parts) {
    const sp = document.createElementNS(NS, "tspan");
    sp.setAttribute("dy", dy); sp.setAttribute("font-size", f); sp.textContent = s;
    t.appendChild(sp);
  }
}
statsBox(517.7, 56, 237, 35.7, statsA, 17, 80);
statsBox(524, 347.7, 216, 31.6, statsB, 17, 369.6);

function legend(x, y, w, h, fs, r1, r2, mx, lx1, lx2, tx, rad, lw) {
  el("rect", {x, y, width: w, height: h, fill: "#fff", stroke: "#333", "stroke-width": 1.2});
  el("circle", {cx: mx, cy: r1, r: rad, fill: "#c4c4c4", stroke: "#3a3a3a", "stroke-width": 0.75});
  el("line", {x1: lx1, x2: lx2, y1: r2, y2: r2, stroke: ORANGE, "stroke-width": lw});
  el("text", {x: tx, y: r1 + fs * 0.36, "font-size": fs, fill: "#111"}, legendLabels[0]);
  el("text", {x: tx, y: r2 + fs * 0.36, "font-size": fs, fill: "#111"}, legendLabels[1]);
}
legend(983, 221, 198, 43, 15, 234.3, 252.3, 1010, 989, 1029, 1035, 4.5, 2.5);
legend(965.7, 543.3, 212.6, 47.4, 16.5, 557.3, 577.3, 991.7, 971, 1011.7, 1017.3, 5.2, 2.2);
</script></body></html>
